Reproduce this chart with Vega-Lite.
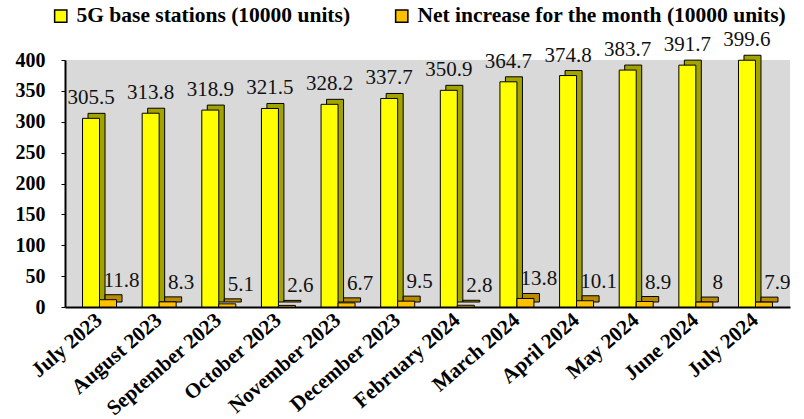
{
  "$schema": "https://vega.github.io/schema/vega-lite/v6.json",
  "width": 725,
  "height": 247,
  "autosize": {"type": "none"},
  "padding": {"left": 65, "top": 60, "right": 14, "bottom": 112},
  "background": "white",
  "config": {
    "view": {"fill": "#d9d9d9", "stroke": null},
    "font": "Liberation Serif"
  },
  "data": {
    "values": [
      {"month": "July 2023", "series": "5G base stations (10000 units)", "value": 305.5},
      {"month": "August 2023", "series": "5G base stations (10000 units)", "value": 313.8},
      {"month": "September 2023", "series": "5G base stations (10000 units)", "value": 318.9},
      {"month": "October 2023", "series": "5G base stations (10000 units)", "value": 321.5},
      {"month": "November 2023", "series": "5G base stations (10000 units)", "value": 328.2},
      {"month": "December 2023", "series": "5G base stations (10000 units)", "value": 337.7},
      {"month": "February 2024", "series": "5G base stations (10000 units)", "value": 350.9},
      {"month": "March 2024", "series": "5G base stations (10000 units)", "value": 364.7},
      {"month": "April 2024", "series": "5G base stations (10000 units)", "value": 374.8},
      {"month": "May 2024", "series": "5G base stations (10000 units)", "value": 383.7},
      {"month": "June 2024", "series": "5G base stations (10000 units)", "value": 391.7},
      {"month": "July 2024", "series": "5G base stations (10000 units)", "value": 399.6},
      {"month": "July 2023", "series": "Net increase for the month (10000 units)", "value": 11.8},
      {"month": "August 2023", "series": "Net increase for the month (10000 units)", "value": 8.3},
      {"month": "September 2023", "series": "Net increase for the month (10000 units)", "value": 5.1},
      {"month": "October 2023", "series": "Net increase for the month (10000 units)", "value": 2.6},
      {"month": "November 2023", "series": "Net increase for the month (10000 units)", "value": 6.7},
      {"month": "December 2023", "series": "Net increase for the month (10000 units)", "value": 9.5},
      {"month": "February 2024", "series": "Net increase for the month (10000 units)", "value": 2.8},
      {"month": "March 2024", "series": "Net increase for the month (10000 units)", "value": 13.8},
      {"month": "April 2024", "series": "Net increase for the month (10000 units)", "value": 10.1},
      {"month": "May 2024", "series": "Net increase for the month (10000 units)", "value": 8.9},
      {"month": "June 2024", "series": "Net increase for the month (10000 units)", "value": 8},
      {"month": "July 2024", "series": "Net increase for the month (10000 units)", "value": 7.9}
    ]
  },
  "encoding": {
    "x": {
      "field": "month", "type": "nominal", "sort": null,
      "scale": {"paddingInner": 0.43, "paddingOuter": 0.294},
      "axis": {
        "title": null, "labelAngle": -41, "labelAlign": "right", "labelBaseline": "middle",
        "labelFont": "Liberation Serif", "labelFontSize": 21, "labelFontWeight": "bold",
        "labelColor": "black", "labelPadding": 10, "ticks": false,
        "domainColor": "black", "domainWidth": 2
      }
    },
    "y": {
      "field": "value", "type": "quantitative",
      "scale": {"domain": [0, 400]},
      "axis": {
        "title": null, "values": [0, 50, 100, 150, 200, 250, 300, 350, 400],
        "grid": false, "labelFont": "Liberation Serif", "labelFontSize": 20,
        "labelFontWeight": "bold", "labelColor": "black", "labelPadding": 16,
        "tickColor": "black", "tickSize": 4, "domainColor": "black", "domainWidth": 2
      }
    }
  },
  "layer": [
    {
      "transform": [{"filter": "datum.series === '5G base stations (10000 units)'"}],
      "mark": {"type": "bar", "width": {"band": 0.5}, "xOffset": -3, "yOffset": -5, "fill": "#a3a300", "stroke": "black", "strokeWidth": 1}
    },
    {
      "transform": [{"filter": "datum.series === '5G base stations (10000 units)'"}],
      "mark": {"type": "bar", "width": {"band": 0.5}, "xOffset": -8.5, "stroke": "black", "strokeWidth": 1},
      "encoding": {
        "color": {
          "field": "series", "type": "nominal", "sort": null,
          "scale": {"domain": ["5G base stations (10000 units)", "Net increase for the month (10000 units)"], "range": ["#ffff00", "#ffc000"]},
          "legend": {
            "title": null, "orient": "none", "direction": "horizontal",
            "legendX": -15, "legendY": -55,
            "symbolType": "square", "symbolSize": 150, "symbolStrokeColor": "black",
            "symbolStrokeWidth": 1.5, "symbolOpacity": 1,
            "labelFont": "Liberation Serif", "labelFontSize": 21.5, "labelFontWeight": "bold",
            "labelColor": "black", "labelOffset": 5, "columnPadding": 40, "labelLimit": 500
          }
        }
      }
    },
    {
      "transform": [{"filter": "datum.series === 'Net increase for the month (10000 units)'"}],
      "mark": {"type": "bar", "width": {"band": 0.5}, "xOffset": 14, "yOffset": -5, "fill": "#b88a00", "stroke": "black", "strokeWidth": 1}
    },
    {
      "transform": [{"filter": "datum.series === 'Net increase for the month (10000 units)'"}],
      "mark": {"type": "bar", "width": {"band": 0.5}, "xOffset": 8.5, "stroke": "black", "strokeWidth": 1},
      "encoding": {
        "color": {"field": "series", "type": "nominal", "sort": null}
      }
    },
    {
      "transform": [{"filter": "datum.series === '5G base stations (10000 units)'"}],
      "mark": {"type": "text", "font": "Liberation Serif", "fontSize": 21, "color": "#111", "baseline": "alphabetic", "dy": -14, "dx": -8.5},
      "encoding": {"text": {"field": "value", "type": "quantitative"}}
    },
    {
      "transform": [{"filter": "datum.series === 'Net increase for the month (10000 units)'"}],
      "mark": {"type": "text", "font": "Liberation Serif", "fontSize": 21, "color": "#111", "baseline": "alphabetic", "dy": -13, "dx": 22},
      "encoding": {"text": {"field": "value", "type": "quantitative"}}
    }
  ]
}
